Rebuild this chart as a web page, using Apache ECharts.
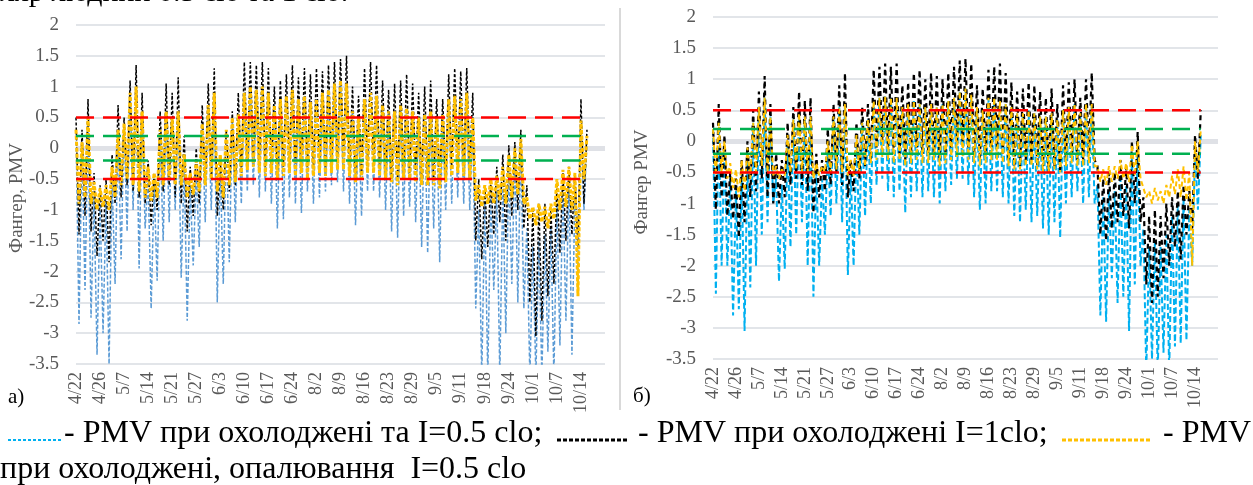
<!DOCTYPE html>
<html><head><meta charset="utf-8">
<script src="https://cdn.jsdelivr.net/npm/echarts@6/dist/echarts.min.js"></script>
<style>html,body{margin:0;padding:0;background:#fff;}#c{width:1253px;height:485px;}</style>
</head><body><div id="c"></div>
<script>
// ---------- data ----------
const tickLabels = ['4/22','4/26','5/7','5/14','5/21','5/27','6/3','6/10','6/17','6/24','8/2','8/9','8/16','8/23','8/29','9/5','9/11','9/18','9/24','10/1','10/7','10/14'];
const pointsPerTick = 8;           // samples between two date labels (alternating high / low)
const yMin = -3.5, yMax = 2, yStep = 0.5;
const comfortLimits = [0.5, -0.5];  // red dashed
const neutralLimits = [0.2, -0.2];  // green dashed

// panel а)
const blueHighA = [0.3,0.1,0.4,-0.8,-0.9,-0.85,-0.5,0.3,0.4,0.9, 1.0,0.6,-0.5,-0.6,0.2,0.6,0.5,0.6,-0.3,-0.6, -0.4,0.4,0.7,0.9,-0.3,0.2,0.5,0.55,0.9,1.0, 0.95,1.0,0.9,0.7,0.8,0.85,0.95,0.8,0.85,0.75, 0.8,0.9,0.95,1.05,1.1,1.05,0.6,0.5,0.8,0.9, 0.85,0.7,0.6,0.6,0.7,0.65,0.6,0.5,0.55,0.6, 0.5,0.55,0.8,0.85,0.8,0.9,0.4,-1.0,-0.9,-0.8, -0.7,-0.6,-0.3,-0.1,0.1,-1.3,-1.6,-1.5,-1.4,-1.3, -0.9,-0.6,-0.5,-0.7,0.3,0.1];
const blueLowA = [-2.85,-2.3,-2.75,-3.35,-3.0,-3.5,-2.2,-1.8,-1.35,-1.0, -1.95,-1.3,-2.6,-2.15,-1.5,-1.2,-1.0,-2.1,-2.8,-1.9, -1.6,-1.2,-1.0,-2.5,-2.2,-1.85,-1.2,-0.9,-0.7,-0.6, -0.8,-0.7,-0.9,-1.3,-1.15,-0.8,-0.9,-1.05,-0.7,-0.9, -0.8,-0.7,-0.6,-0.55,-0.7,-0.9,-1.25,-1.1,-0.7,-0.7, -0.8,-1.0,-1.35,-1.45,-1.1,-0.95,-1.2,-1.6,-1.7,-1.3, -1.85,-1.0,-0.9,-0.8,-0.9,-1.0,-2.6,-3.7,-3.7,-2.3, -3.7,-3.0,-2.2,-2.5,-2.6,-3.7,-3.7,-3.7,-3.3,-3.7, -3.2,-2.8,-3.35,-2.3,-1.0];
const blackHighA = [0.5,0.3,0.8,-0.4,-0.6,-0.5,-0.1,0.7,0.5,1.1, 1.35,0.9,-0.2,-0.4,0.6,1.05,0.9,1.15,0.2,-0.3, 0.0,0.7,1.05,1.3,-0.2,0.3,0.6,0.9,1.4,1.4, 1.35,1.4,1.3,1.0,1.1,1.2,1.35,1.15,1.3,1.2, 1.3,1.25,1.35,1.4,1.45,1.5,1.0,0.85,1.3,1.4, 1.35,1.1,0.95,1.05,1.1,1.2,1.05,0.9,1.0,1.1, 0.8,0.8,1.2,1.3,1.25,1.3,0.9,-0.5,-0.6,-0.5, -0.3,-0.1,0.05,0.1,0.3,-0.6,-1.0,-0.9,-0.9,-1.0, -0.6,-0.4,-0.3,-0.4,0.8,0.3];
const blackLowA = [-1.4,-1.1,-1.35,-1.75,-1.5,-1.85,-0.9,-0.8,-0.6,-0.7, -0.8,-0.9,-1.25,-1.0,-0.7,-0.6,-0.8,-0.9,-1.35,-1.1, -0.9,-0.6,-0.5,-1.1,-1.0,-0.7,-0.6,-0.4,-0.2,-0.1, -0.2,-0.3,-0.3,-0.4,-0.3,-0.2,-0.3,-0.2,-0.3,-0.3, -0.2,-0.3,-0.2,-0.1,-0.1,-0.3,-0.5,-0.4,-0.2,-0.2, -0.3,-0.4,-0.5,-0.5,-0.4,-0.4,-0.4,-0.5,-0.5,-0.5, -0.6,-0.5,-0.3,-0.3,-0.3,-0.3,-1.5,-1.8,-1.6,-1.4, -1.2,-1.5,-1.1,-1.0,-1.3,-2.5,-3.05,-2.8,-2.4,-2.2, -1.7,-1.5,-1.4,-1.6,-0.9];
const yellowHighA = [0.3,0.1,0.5,-0.55,-0.65,-0.6,-0.3,0.3,0.4,0.9, 1.0,0.6,-0.3,-0.4,0.3,0.6,0.5,0.6,-0.1,-0.4, -0.2,0.4,0.7,0.9,-0.1,0.3,0.5,0.55,0.9,1.0, 0.95,1.0,0.9,0.7,0.8,0.85,0.95,0.8,0.85,0.75, 0.8,0.9,0.95,1.05,1.1,1.05,0.6,0.5,0.8,0.9, 0.85,0.7,0.6,0.6,0.7,0.65,0.6,0.5,0.55,0.6, 0.5,0.55,0.8,0.85,0.8,0.9,0.5,-0.6,-0.6,-0.5, -0.45,-0.3,-0.1,0.0,0.15,-0.8,-0.95,-0.9,-0.95,-0.9, -0.5,-0.35,-0.3,-0.4,0.45,0.2];
const yellowLowA = [-0.9,-0.8,-0.9,-1.0,-0.95,-1.0,-0.8,-0.6,-0.5,-0.6, -0.7,-0.8,-0.85,-0.8,-0.6,-0.5,-0.6,-0.6,-0.8,-0.75, -0.7,-0.6,-0.5,-0.7,-0.8,-0.6,-0.55,-0.45,-0.35,-0.3, -0.4,-0.45,-0.4,-0.5,-0.45,-0.4,-0.45,-0.4,-0.5,-0.45, -0.4,-0.45,-0.4,-0.35,-0.35,-0.45,-0.55,-0.5,-0.4,-0.4, -0.45,-0.5,-0.55,-0.6,-0.5,-0.5,-0.55,-0.6,-0.6,-0.6, -0.65,-0.55,-0.45,-0.4,-0.45,-0.5,-0.85,-0.95,-0.9,-0.9, -0.85,-0.9,-0.8,-0.75,-0.9,-1.15,-1.25,-1.2,-1.3,-1.15, -1.0,-0.95,-1.0,-2.4,-0.5];

// panel б)
const blueHighB = [0.2,0.3,-0.1,-0.6,-0.8,-0.5,-0.3,0.3,0.55,0.7, 0.4,-0.6,-0.7,0.0,0.35,0.45,0.4,0.4,-0.5,-0.6, -0.1,0.4,0.55,0.6,-0.5,0.0,0.3,0.35,0.65,0.7, 0.72,0.7,0.7,0.55,0.6,0.65,0.6,0.55,0.6,0.55, 0.6,0.65,0.7,0.8,0.85,0.75,0.55,0.5,0.7,0.7, 0.65,0.6,0.55,0.45,0.45,0.5,0.45,0.4,0.4,0.45, 0.35,0.5,0.55,0.6,0.45,0.6,0.6,-0.7,-0.9,-0.8, -0.8,-0.6,-0.7,-0.2,-0.1,-1.4,-1.7,-1.6,-1.7,-1.5, -1.2,-1.0,-0.9,-1.1,-0.2,0.1];
const blueLowB = [-2.45,-2.0,-2.0,-2.8,-2.7,-3.05,-2.35,-2.0,-1.5,-1.3, -1.0,-2.25,-2.05,-1.7,-1.5,-1.3,-2.0,-2.5,-2.0,-1.5, -1.2,-1.0,-1.3,-2.15,-2.0,-1.5,-1.2,-1.0,-0.7,-0.6, -0.8,-0.9,-0.8,-1.15,-0.9,-0.8,-0.9,-0.8,-0.9,-1.0, -0.8,-0.7,-0.6,-0.6,-0.7,-0.9,-1.1,-1.0,-0.8,-0.8, -0.9,-1.0,-1.2,-1.3,-1.1,-1.3,-1.2,-1.4,-1.5,-1.3, -1.55,-1.0,-0.9,-0.8,-1.0,-0.9,-1.0,-2.8,-2.9,-2.2, -2.6,-2.5,-3.05,-2.3,-2.0,-3.7,-3.5,-3.7,-3.4,-3.7, -3.3,-3.25,-3.2,-2.0,-1.1];
const blackHighB = [0.3,0.6,0.1,-0.5,-0.6,-0.3,0.0,0.5,0.8,1.05, 0.6,-0.2,-0.3,0.3,0.55,0.8,0.65,0.7,-0.2,-0.3, 0.2,0.6,0.9,1.1,-0.3,0.3,0.55,0.6,1.15,1.2, 1.25,1.2,1.25,0.9,0.95,1.1,1.15,1.0,1.1,1.05, 1.0,1.1,1.2,1.3,1.33,1.25,0.9,0.85,1.15,1.2, 1.25,1.1,0.95,0.8,0.85,0.95,0.9,0.8,0.7,0.85, 0.6,0.9,0.95,1.0,0.7,1.0,1.1,-0.4,-0.6,-0.5, -0.5,-0.3,-0.4,0.0,0.15,-0.9,-1.2,-1.1,-1.2,-1.0, -0.9,-0.8,-0.7,-0.8,0.1,0.5];
const blackLowB = [-1.1,-0.9,-1.2,-1.25,-1.55,-1.3,-0.9,-0.8,-0.6,-0.9, -1.0,-1.0,-0.9,-0.7,-0.6,-0.7,-0.8,-1.15,-0.9,-0.8, -0.7,-0.5,-0.7,-0.9,-0.8,-0.6,-0.4,-0.3,-0.1,0.0, -0.1,-0.2,-0.2,-0.3,-0.2,-0.1,-0.2,-0.2,-0.2,-0.3, -0.2,-0.1,0.0,0.0,-0.1,-0.2,-0.3,-0.2,-0.1,-0.1, -0.2,-0.3,-0.4,-0.4,-0.3,-0.3,-0.4,-0.4,-0.5,-0.4, -0.5,-0.3,-0.2,-0.3,-0.3,-0.2,-0.3,-1.5,-1.6,-1.4, -1.3,-1.2,-1.4,-1.0,-1.3,-2.3,-2.6,-2.5,-2.2,-2.0, -1.7,-1.9,-1.5,-1.4,-0.6];
const yellowHighB = [0.2,0.3,0.0,-0.35,-0.45,-0.3,-0.1,0.3,0.55,0.7, 0.4,-0.4,-0.45,0.1,0.35,0.45,0.4,0.4,-0.35,-0.4, 0.0,0.4,0.55,0.6,-0.3,0.1,0.3,0.35,0.65,0.7, 0.72,0.7,0.7,0.55,0.6,0.65,0.6,0.55,0.6,0.55, 0.6,0.65,0.7,0.8,0.85,0.75,0.55,0.5,0.7,0.7, 0.65,0.6,0.55,0.45,0.45,0.5,0.45,0.4,0.4,0.45, 0.35,0.5,0.55,0.6,0.45,0.6,0.6,-0.4,-0.45,-0.4, -0.4,-0.3,-0.35,-0.05,0.0,-0.75,-0.8,-0.75,-0.8,-0.7, -0.55,-0.45,-0.4,-0.5,0.0,0.2];
const yellowLowB = [-0.55,-0.5,-0.6,-0.75,-0.9,-0.8,-0.6,-0.5,-0.4,-0.5, -0.55,-0.6,-0.55,-0.5,-0.45,-0.5,-0.5,-0.6,-0.55,-0.5, -0.5,-0.45,-0.5,-0.55,-0.55,-0.5,-0.4,-0.35,-0.3,-0.25, -0.3,-0.35,-0.3,-0.4,-0.35,-0.3,-0.35,-0.35,-0.3,-0.4, -0.35,-0.3,-0.25,-0.25,-0.3,-0.35,-0.4,-0.35,-0.3,-0.3, -0.35,-0.4,-0.45,-0.45,-0.4,-0.4,-0.45,-0.5,-0.5,-0.45, -0.5,-0.4,-0.35,-0.4,-0.4,-0.35,-0.4,-0.65,-0.7,-0.65, -0.6,-0.6,-0.65,-0.55,-0.6,-0.9,-1.0,-0.95,-1.0,-0.9, -0.85,-0.9,-0.95,-2.0,-0.5];

// ---------- texts ----------
const topText = 'ляр людини 0.5 clo та 1 clo.';
const yNameA = 'Фангер, PMV';
const yNameB = 'Фангер PMV';
const panelA = 'а)', panelB = 'б)';
const legend1 = '- PMV при охолоджені та I=0.5 clo;';
const legend2 = ' - PMV при охолоджені I=1clo;';
const legend3 = '- PMV';
const legendLine2 = 'при охолоджені, опалювання  I=0.5 clo';

// ---------- helpers ----------
function interleave(highs, lows) {
  const out = [];
  for (let k = 0; k < highs.length; k++) {
    out.push([2 * k / pointsPerTick, highs[k]]);
    if (k < lows.length) out.push([(2 * k + 1) / pointsPerTick, lows[k]]);
  }
  return out;
}
const SERIF = '"Liberation Serif","Times New Roman",serif';
const GRAY = '#595959';

function axesFor(idx) {
  const x = {
    type: 'value', gridIndex: idx, min: 0, max: tickLabels.length, interval: 1,
    axisLine: { show: false }, axisTick: { show: false }, splitLine: { show: false },
    axisLabel: {
      rotate: 90, margin: 8, color: GRAY, fontFamily: SERIF, fontSize: 18,
      formatter: v => (tickLabels[Math.round(v)] || '')
    }
  };
  const y = {
    type: 'value', gridIndex: idx, min: yMin, max: yMax, interval: yStep,
    axisLine: { show: false }, axisTick: { show: false },
    splitLine: { lineStyle: { color: '#d9dce2', width: 1.5 } },
    axisLabel: { margin: 17, color: GRAY, fontFamily: SERIF, fontSize: 19, formatter: v => String(v) }
  };
  return [x, y];
}

function panelSeries(idx, blueColor, data, styles) {
  const lastX = (data.blackH.length + data.blackL.length - 1) / pointsPerTick;
  const base = { type: 'line', xAxisIndex: idx, yAxisIndex: idx, showSymbol: false, symbol: 'none', animation: false, silent: true };
  const s = [
    Object.assign({}, base, {
      name: 'blue' + idx, data: interleave(data.blueH, data.blueL),
      lineStyle: { color: blueColor, width: styles.blueW, type: styles.blueDash },
      markLine: { silent: true, symbol: 'none', z: 1, label: { show: false },
        lineStyle: { color: '#dfe1e6', width: 5, type: 'solid' }, data: [{ yAxis: 0 }] }
    }),
    Object.assign({}, base, { name: 'black' + idx, data: interleave(data.blackH, data.blackL),
      lineStyle: { color: '#000000', width: styles.blackW, type: styles.blackDash } }),
    Object.assign({}, base, { name: 'yellow' + idx, data: interleave(data.yellowH, data.yellowL),
      lineStyle: { color: '#ffc000', width: styles.yellowW, type: styles.yellowDash } })
  ];
  comfortLimits.forEach(v => s.push(Object.assign({}, base, { data: [[0, v], [lastX, v]],
    lineStyle: { color: '#ff0000', width: 2.5, type: [18, 9] } })));
  neutralLimits.forEach(v => s.push(Object.assign({}, base, { data: [[0, v], [lastX, v]],
    lineStyle: { color: '#00b050', width: 2.5, type: [18, 9] } })));
  return s;
}

const [xa, ya] = axesFor(0);
const [xb, yb] = axesFor(1);

const textStyle = (t, x, y, size, extra) => Object.assign({ type: 'text', x: x, y: y, silent: true,
  style: Object.assign({ text: t, font: size + 'px ' + SERIF, fill: '#000', verticalAlign: 'middle' }, extra || {}) });

const option = {
  backgroundColor: '#ffffff',
  animation: false,
  grid: [
    { left: 76, top: 25, width: 529, height: 339 },
    { left: 713, top: 17, width: 505, height: 342 }
  ],
  xAxis: [xa, xb],
  yAxis: [ya, yb],
  series: [].concat(
    panelSeries(0, '#5b9bd5', { blueH: blueHighA, blueL: blueLowA, blackH: blackHighA, blackL: blackLowA, yellowH: yellowHighA, yellowL: yellowLowA },
      { blueW: 1.5, blueDash: [4, 2], blackW: 1.5, blackDash: [3, 2], yellowW: 3, yellowDash: [4, 2] }),
    panelSeries(1, '#00b0f0', { blueH: blueHighB, blueL: blueLowB, blackH: blackHighB, blackL: blackLowB, yellowH: yellowHighB, yellowL: yellowLowB },
      { blueW: 2, blueDash: [6, 3], blackW: 2.2, blackDash: [5, 4], yellowW: 2, yellowDash: [5, 3] })
  ),
  graphic: [
    textStyle(topText, 0, -7, 30),
    { type: 'line', silent: true, shape: { x1: 620, y1: 8, x2: 620, y2: 410 }, style: { stroke: '#d9d9d9', lineWidth: 2 } },
    Object.assign(textStyle(yNameA, 17, 198, 19, { fill: GRAY, align: 'center' }), { rotation: Math.PI / 2 }),
    Object.assign(textStyle(yNameB, 642, 182, 19, { fill: GRAY, align: 'center' }), { rotation: Math.PI / 2 }),
    textStyle(panelA, 8, 397, 21),
    textStyle(panelB, 633, 396, 21),
    { type: 'line', silent: true, shape: { x1: 8, y1: 440, x2: 62, y2: 440 }, style: { stroke: '#00b0f0', lineWidth: 2, lineDash: [3, 2] } },
    textStyle(legend1, 64, 434, 32),
    { type: 'line', silent: true, shape: { x1: 557, y1: 440, x2: 627, y2: 440 }, style: { stroke: '#000', lineWidth: 3, lineDash: [4, 2] } },
    textStyle(legend2, 630, 434, 32),
    { type: 'line', silent: true, shape: { x1: 1062, y1: 440, x2: 1152, y2: 440 }, style: { stroke: '#ffc000', lineWidth: 3, lineDash: [4, 2] } },
    textStyle(legend3, 1163, 434, 32),
    textStyle(legendLine2, 0, 470, 32)
  ]
};

const chart = echarts.init(document.getElementById('c'), null, { renderer: 'canvas' });
chart.setOption(option);
</script>
</body></html>
